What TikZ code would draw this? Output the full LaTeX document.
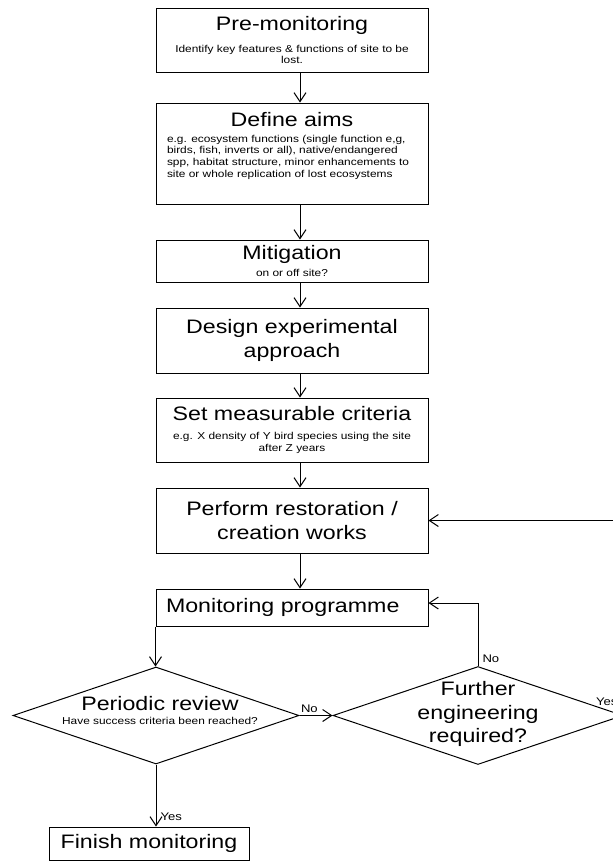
\documentclass[tikz,border=0pt]{standalone}
\usepackage{fontspec}
\setmainfont[FakeStretch=1.19]{Liberation Sans}
\usepackage{tikz}
\usetikzlibrary{arrows.meta, positioning, shapes.geometric, calc}

\newcommand{\bigtxt}{\fontsize{19.5}{23.3}\selectfont}
\newcommand{\smalltxt}{\fontsize{10}{11.7}\selectfont}

\begin{document}
\begin{tikzpicture}[
        x=1pt, y=-1pt,
        stage/.style={rectangle, draw, line width=1pt, minimum width=272pt, align=center, inner sep=2pt, font=\bigtxt},
        decision/.style={diamond, draw, line width=1pt, inner sep=0pt},
        arrow/.style={-{Straight Barb[length=9pt, width=12pt]}, line width=1pt},
        answer/.style={font=\fontsize{11}{13}\selectfont, inner sep=0pt}
    ]
    \useasboundingbox (0,0) rectangle (613,863);
    \clip (0,0) rectangle (613,863);

    % Planning stages
    \node (premon) [stage, minimum height=64pt, font=\smalltxt] at (292,40) {{\bigtxt Pre-monitoring}\\[10pt]Identify key features \& functions of site to be\\lost.};
    \node (aims) [stage, below=30pt of premon, minimum height=101pt] {\parbox[c][97pt][t]{250pt}{\centering\bigtxt\rule{0pt}{21pt}Define aims\par\vspace{4.3pt}\raggedright\smalltxt e.g. ecosystem functions (single function e,g,\\birds, fish, inverts or all), native/endangered\\spp, habitat structure, minor enhancements to\\site or whole replication of lost ecosystems\par}};
    \node (mitig) [stage, below=35pt of aims, minimum height=42pt, font=\smalltxt] {{\bigtxt Mitigation}\\[6pt]on or off site?};
    \node (design) [stage, below=25pt of mitig, minimum height=65pt] {Design experimental\\approach};
    \node (criteria) [stage, below=24pt of design, minimum height=64pt, font=\smalltxt] {{\bigtxt Set measurable criteria}\\[7.6pt]e.g. X density of Y bird species using the site\\after Z years};
    \node (works) [stage, below=25pt of criteria, minimum height=65pt] {Perform restoration /\\creation works};

    \draw[arrow] ([xshift=8pt]premon.south) -- ([xshift=8pt]aims.north);
    \draw[arrow] ([xshift=8pt]aims.south) -- ([xshift=8pt]mitig.north);
    \draw[arrow] ([xshift=8pt]mitig.south) -- ([xshift=8pt]design.north);
    \draw[arrow] ([xshift=8pt]design.south) -- ([xshift=8pt]criteria.north);
    \draw[arrow] ([xshift=8pt]criteria.south) -- ([xshift=8pt]works.north);

    % Monitoring loop
    \node (monit) [stage, below=35pt of works, minimum height=37pt, text width=252pt, inner xsep=10pt, align=left] {Monitoring programme};
    \draw[arrow] ([xshift=8pt]works.south) -- ([xshift=8pt]works.south |- monit.north);

    \node (periodic) [decision, minimum width=286pt, minimum height=97pt] at (156,715.5) {};
    \node (periodictxt) [align=center, inner sep=0pt, font=\smalltxt] at (160,710.7) {{\bigtxt Periodic review}\\[2.6pt]Have success criteria been reached?};
    \node (further) [decision, minimum width=290pt, minimum height=98pt] at (478,715.5) {};
    \node (furthertxt) [align=center, inner sep=0pt, font=\bigtxt] at (478,714) {Further\\engineering\\required?};

    \draw[arrow] (monit.south west) -- (monit.south west |- periodic.north);
    \draw[arrow] (periodic.east) -- node[answer, pos=0, anchor=base west, xshift=1pt, yshift=3pt] (noperiodic) {No} (further.west);
    \draw[arrow] (further.north) |- node[answer, pos=0, anchor=base west, xshift=4pt, yshift=3.5pt] (nofurther) {No} ([yshift=4.5pt]monit.east);
    \draw[arrow] (further.east) -- node[answer, pos=0, anchor=base west, xshift=-28pt, yshift=10.5pt] (yesfurther) {Yes} ++(20pt,0) |- (works.east);

    % End of monitoring
    \node (finish) [stage, minimum width=200pt, minimum height=33pt] at (149,843.5) {Finish monitoring};
    \draw[arrow] (periodic.south) -- node[answer, pos=1, anchor=base west, xshift=4pt, yshift=6pt] (yesperiodic) {Yes} (periodic.south |- finish.north);

\end{tikzpicture}
\end{document}
